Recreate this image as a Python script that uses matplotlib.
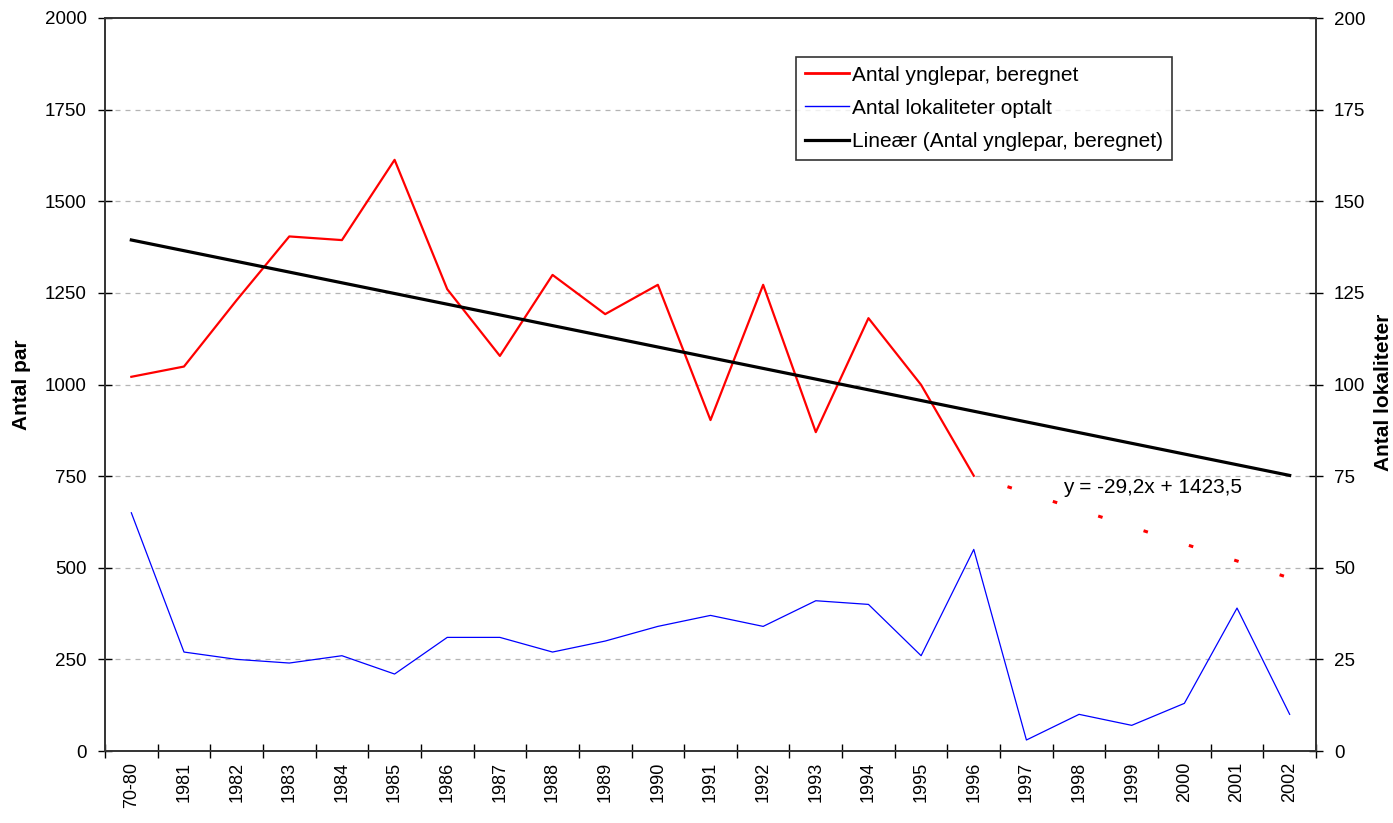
import matplotlib
matplotlib.use("Agg")
import matplotlib.pyplot as plt
import numpy as np

plt.rcParams['font.family'] = ['Liberation Sans', 'DejaVu Sans']

# categories
years = ['70-80', '1981', '1982', '1983', '1984', '1985', '1986', '1987', '1988',
         '1989', '1990', '1991', '1992', '1993', '1994', '1995', '1996', '1997',
         '1998', '1999', '2000', '2001', '2002']

# Antal ynglepar, beregnet (70-80 .. 1996)
par = [1021, 1049, 1230, 1404, 1394, 1613, 1260, 1078, 1299, 1192, 1272,
       903, 1272, 870, 1181, 999, 751]
# dotted continuation 1996 -> 2002
par_dot_idx = [16, 22]
par_dot = [751, 472]

# Antal lokaliteter optalt (right axis)
lok = [65, 27, 25, 24, 26, 21, 31, 31, 27, 30, 34, 37, 34, 41, 40, 26, 55,
       3, 10, 7, 13, 39, 10]

# trend line y = -29.2x + 1423.5
slope = -29.2
intercept = 1423.5

fig = plt.figure(figsize=(13.93, 8.23), dpi=100)
ax = fig.add_axes([105/1393, 1-751/823, 1211/1393, 733/823])
ax2 = ax.twinx()

x = np.arange(len(years))
ax.plot(x[:len(par)], par, color='red', lw=1.6, zorder=3)
ax.plot(par_dot_idx, par_dot, color='red', lw=2.2, linestyle=(4.0, (1.5, 14.1)), zorder=3)
xt = np.arange(1, len(years)+1)
ax.plot(x, slope*xt + intercept, color='black', lw=2.3, zorder=4)
ax2.plot(x, lok, color='blue', lw=0.9)

ax.set_xlim(-0.5, len(years)-0.5)
ax.set_ylim(0, 2000)
ax2.set_ylim(0, 200)
ax.set_yticks(np.arange(0, 2001, 250))
ax2.set_yticks(np.arange(0, 201, 25))

for yv in np.arange(250, 2000, 250):
    ax.axhline(yv, color='#b4b4b4', lw=0.9, linestyle=(0, (4, 4)), zorder=1)

ax.set_xticks(x)
ax.set_xticklabels(years, rotation=90, fontsize=13)
ax.set_xticks(np.arange(-0.5, len(years), 1), minor=True)
ax.tick_params(axis='x', which='major', length=0, pad=8)
ax.tick_params(axis='x', which='minor', length=10, direction='inout', width=1)
ax.tick_params(axis='y', length=10, direction='inout', width=1, labelsize=13.5, pad=8)
ax2.tick_params(axis='y', length=10, direction='inout', width=1, labelsize=13.5, pad=8)
ax2.tick_params(axis='x', length=0)

for a in (ax, ax2):
    for s in a.spines.values():
        s.set_color('#333333')
        s.set_linewidth(1.2)

ax.set_ylabel('Antal par', fontsize=15, fontweight='bold', labelpad=10)
ax2.set_ylabel('Antal lokaliteter', fontsize=15, fontweight='bold')
ax2.yaxis.set_label_coords(1.0475, 0.49)

ax.text(17.7, 718, 'y = -29,2x + 1423,5', fontsize=15, ha='left', va='center', zorder=5)

h = [plt.Line2D([], [], color='red', lw=2),
     plt.Line2D([], [], color='blue', lw=1),
     plt.Line2D([], [], color='black', lw=2.3)]
lbl = ['Antal ynglepar, beregnet', 'Antal lokaliteter optalt',
       'Lineær (Antal ynglepar, beregnet)']
leg = ax2.legend(h, lbl, loc='upper left', bbox_to_anchor=(0.571, 0.947),
                 fontsize=15, frameon=True, fancybox=False, borderpad=0.42,
                 handlelength=2.1, handletextpad=0.15, labelspacing=0.68,
                 borderaxespad=0)
leg.get_frame().set_edgecolor('black')
leg.get_frame().set_linewidth(1.2)

fig.savefig('out.png', dpi=100)
